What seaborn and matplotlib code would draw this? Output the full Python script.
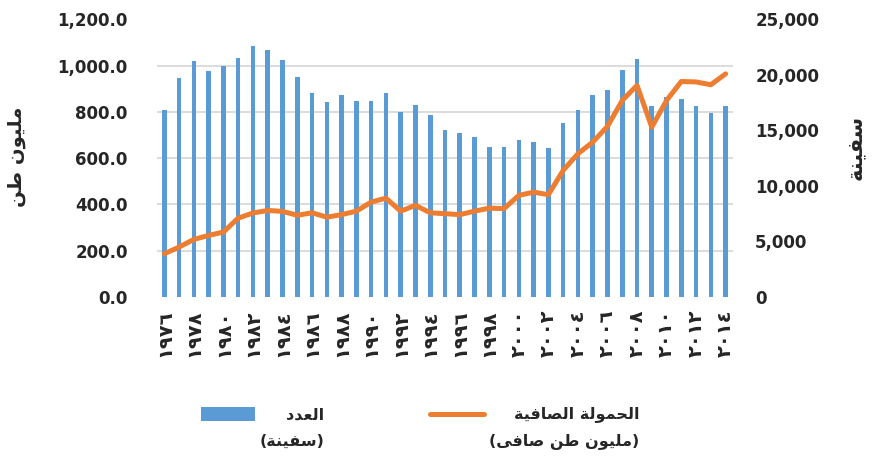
import numpy as np
import pandas as pd
import matplotlib
matplotlib.use("Agg")
import matplotlib.pyplot as plt
from matplotlib.patches import Patch, Rectangle
from matplotlib.lines import Line2D
from matplotlib.legend_handler import HandlerBase
from matplotlib.ticker import FuncFormatter, MultipleLocator
import seaborn as sns

# ---------------- data ----------------
years = list(range(1976, 2015))
ships = [16806, 19703, 21266, 20363, 20795, 21545, 22545, 22224, 21361, 19791,
         18370, 17541, 18190, 17628, 17664, 18330, 16629, 17322, 16370, 15051,
         14731, 14430, 13472, 13490, 14141, 13986, 13447, 15667, 16850, 18224,
         18664, 20384, 21415, 17228, 17993, 17799, 17225, 16596, 17148]
tonnage = [187, 216, 249, 266, 281, 341, 363, 374, 370, 353,
           364, 345, 356, 371, 410, 427, 371, 396, 364, 360,
           356, 371, 384, 382, 439, 453, 442, 547, 619, 669,
           737, 849, 914, 734, 849, 931, 929, 917, 964]

label_left = "مليون طن"
label_right = "سفينة"
legend_bar = ["العدد", "(سفينة)"]
legend_line = ["الحمولة الصافية", "(مليون طن صافى)"]

# ---------------- simple Arabic shaping ----------------
FORMS = {
    'ا': (0xFE8D, 0xFE8E, None, None),
    'د': (0xFEA9, 0xFEAA, None, None),
    'و': (0xFEED, 0xFEEE, None, None),
    'ة': (0xFE93, 0xFE94, None, None),
    'ل': (0xFEDD, 0xFEDE, 0xFEDF, 0xFEE0),
    'ح': (0xFEA1, 0xFEA2, 0xFEA3, 0xFEA4),
    'م': (0xFEE1, 0xFEE2, 0xFEE3, 0xFEE4),
    'ص': (0xFEB9, 0xFEBA, 0xFEBB, 0xFEBC),
    'ف': (0xFED1, 0xFED2, 0xFED3, 0xFED4),
    'ي': (0xFEF1, 0xFEF2, 0xFEF3, 0xFEF4),
    'ع': (0xFEC9, 0xFECA, 0xFECB, 0xFECC),
    'ن': (0xFEE5, 0xFEE6, 0xFEE7, 0xFEE8),
    'ط': (0xFEC1, 0xFEC2, 0xFEC3, 0xFEC4),
    'س': (0xFEB1, 0xFEB2, 0xFEB3, 0xFEB4),
    'ى': (0xFEEF, 0xFEF0, 0xFBE8, 0xFBE9),
}
DUAL = {c for c, f in FORMS.items() if f[2] is not None}


def ar(s):
    out = []
    for i, c in enumerate(s):
        if c not in FORMS:
            out.append(c)
            continue
        prev = s[i - 1] if i > 0 else ''
        nxt = s[i + 1] if i + 1 < len(s) else ''
        jp = prev in DUAL
        jn = (c in DUAL) and (nxt in FORMS)
        iso, fin, ini, med = FORMS[c]
        if jp and jn:
            g = med
        elif jp:
            g = fin
        elif jn:
            g = ini
        else:
            g = iso
        out.append(chr(g))
    vis = ''.join(reversed(out))
    return vis.translate(str.maketrans('()', ')('))


AR_DIGITS = str.maketrans('0123456789', '٠١٢٣٤٥٦٧٨٩')
year_labels = [str(y).translate(AR_DIGITS) for y in years]

# ---------------- style ----------------
sns.set_style("white")
plt.rcParams['font.family'] = ['DejaVu Sans']
plt.rcParams['font.weight'] = 'bold'

BLUE = '#5B9BD5'
ORANGE = '#ED7D31'
GRID = '#D9D9D9'
FS = 11.5          # legend font size
LSP = 1.95         # legend line spacing


class TopHandler(HandlerBase):
    """Draw the legend key level with the first line of a two-line label."""

    def create_artists(self, legend, orig_handle, xdescent, ydescent, width,
                       height, fontsize, trans):
        yc = 1.23 * fontsize
        if isinstance(orig_handle, Patch):
            h = 0.87 * fontsize
            art = Rectangle((-xdescent, yc - h / 2), width, h,
                            facecolor=orig_handle.get_facecolor(),
                            edgecolor='none', transform=trans)
        else:
            art = Line2D([-xdescent, width - xdescent], [yc, yc],
                         color=orig_handle.get_color(),
                         linewidth=orig_handle.get_linewidth(),
                         solid_capstyle='round', transform=trans)
        return [art]


df = pd.DataFrame({'year': [str(y) for y in years], 'pos': np.arange(len(years)),
                   'ships': ships, 'tonnage': tonnage})

fig = plt.figure(figsize=(8.72, 4.57), dpi=100)
ax_bar = fig.add_axes([0.180, 0.350, 0.6606, 0.608])
ax_line = ax_bar.twinx()

sns.barplot(data=df, x='year', y='ships', color=BLUE, saturation=1, width=0.31,
            ax=ax_bar, errorbar=None, linewidth=0)
sns.lineplot(data=df, x='pos', y='tonnage', color=ORANGE, linewidth=3.6,
             ax=ax_line, sort=False)
for l in ax_line.lines:
    l.set_solid_capstyle('round')
    l.set_solid_joinstyle('round')

ax_bar.set_xlim(-0.5, len(years) - 0.5)
ax_bar.set_ylim(0, 25000)
ax_line.set_ylim(0, 1200)

# right axis (ships)
ax_bar.yaxis.tick_right()
ax_bar.yaxis.set_major_locator(MultipleLocator(5000))
ax_bar.yaxis.set_major_formatter(FuncFormatter(lambda v, p: f"{v:,.0f}"))
# gridlines aligned with the left-axis ticks, drawn behind the bars
left_ticks = np.arange(0, 1201, 200)
ax_bar.set_yticks(left_ticks * 25000 / 1200, minor=True)
ax_bar.grid(which='minor', axis='y', color=GRID, linewidth=1.3)
ax_bar.grid(which='major', axis='y', visible=False)
ax_bar.set_axisbelow(True)

# left axis (tonnage)
ax_line.yaxis.tick_left()
ax_line.set_yticks(left_ticks)
ax_line.yaxis.set_major_formatter(FuncFormatter(lambda v, p: f"{v:,.1f}"))

ax_bar.set_xticks(range(0, len(years), 2))
ax_bar.set_xticklabels(year_labels[::2], rotation=90)

for a in (ax_bar, ax_line):
    for s in a.spines.values():
        s.set_visible(False)
    a.set_xlabel('')
    a.set_ylabel('')
    a.tick_params(axis='both', which='both', length=0)

ax_bar.tick_params(axis='y', labelsize=12, pad=16)
ax_line.tick_params(axis='y', labelsize=12, pad=21)
ax_bar.tick_params(axis='x', labelsize=14, pad=9)
for t in ax_bar.get_yticklabels() + ax_line.get_yticklabels() + ax_bar.get_xticklabels():
    t.set_fontweight('bold')

fig.text(16 / 872, 1 - 157 / 457, ar(label_left), rotation=90, fontsize=14,
         fontweight='bold', ha='center', va='center')
fig.text(855 / 872, 1 - 147 / 457, ar(label_right), rotation=90, fontsize=15,
         fontweight='bold', ha='center', va='center')

handles = [Patch(facecolor=BLUE, edgecolor='none'),
           Line2D([0], [0], color=ORANGE, linewidth=3.6)]
labels = ['\n'.join(ar(s) for s in legend_bar),
          '\n'.join(ar(s) for s in legend_line)]
leg = fig.legend(handles, labels, ncol=2,
                 loc='upper center', bbox_to_anchor=(420 / 872, 1 - 392 / 457),
                 frameon=False, prop={'size': FS, 'weight': 'bold'},
                 handlelength=3.4, handleheight=0.9, handletextpad=0.3,
                 columnspacing=6.6,
                 handler_map={Patch: TopHandler(), Line2D: TopHandler()})
for t in leg.get_texts():
    t.set_multialignment('right')
    t.set_linespacing(LSP)

fig.savefig('out.png', dpi=100)
